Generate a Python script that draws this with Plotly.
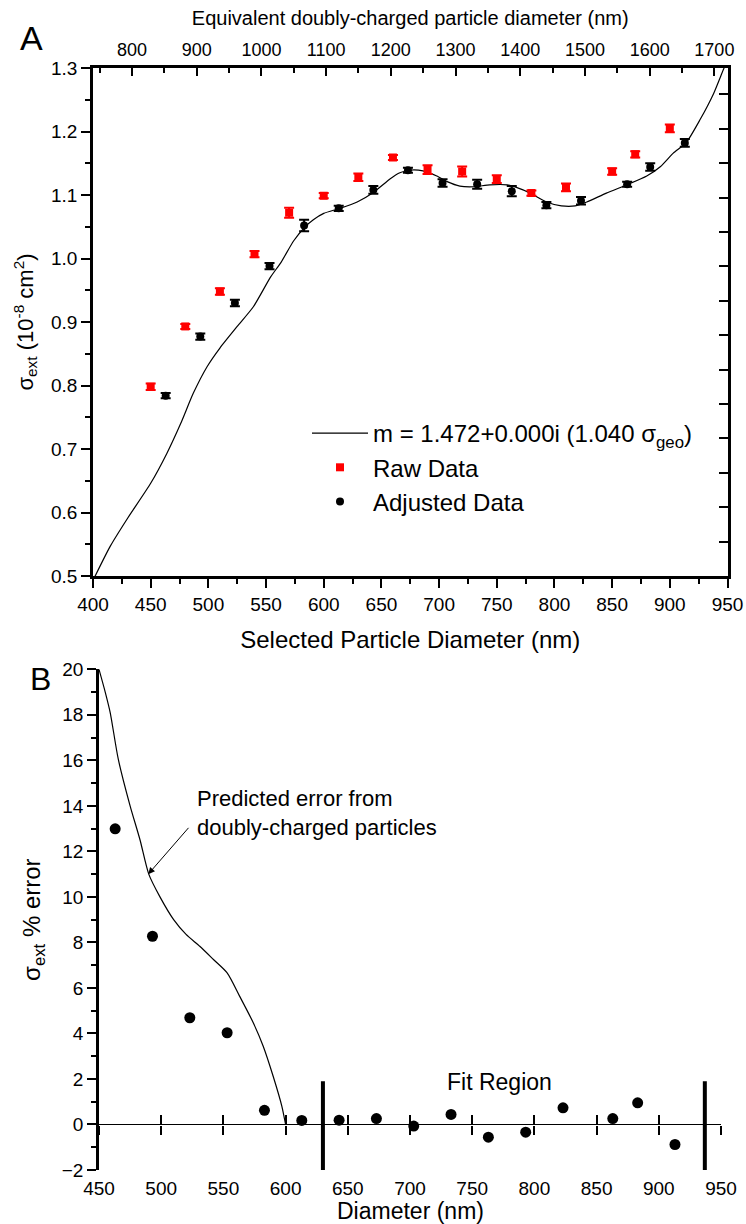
import plotly.graph_objects as go

# ---------------- Panel A data ----------------
raw_x = [450, 480, 510, 540, 570, 600, 630, 660, 690, 720, 750, 780, 810, 850, 870, 900]
raw_y = [0.798, 0.893, 0.948, 1.007, 1.072, 1.099, 1.128, 1.159, 1.140, 1.137, 1.125, 1.103, 1.112, 1.137, 1.164, 1.205]
raw_err = [0.005, 0.004, 0.005, 0.005, 0.008, 0.004, 0.006, 0.004, 0.007, 0.008, 0.006, 0.004, 0.006, 0.005, 0.005, 0.006]

adj_x = [463, 493, 523, 553, 583, 613, 643, 673, 703, 733, 763, 793, 823, 863, 883, 913]
adj_y = [0.784, 0.877, 0.930, 0.988, 1.052, 1.079, 1.108, 1.139, 1.119, 1.117, 1.106, 1.084, 1.091, 1.117, 1.144, 1.182]
adj_err = [0.004, 0.005, 0.005, 0.005, 0.009, 0.004, 0.006, 0.004, 0.006, 0.007, 0.008, 0.005, 0.006, 0.004, 0.006, 0.006]

theory_x = [400, 415, 430, 450, 464, 476, 487, 499, 510, 525, 539, 554, 563, 574, 584, 591, 600, 614, 629, 643,
            658, 666, 674, 686, 698, 707, 718, 730, 744, 759, 767, 779, 793, 806, 818, 828, 845, 864, 880, 892,
            903, 914, 926, 938, 947, 952]
theory_y = [0.493, 0.547, 0.591, 0.646, 0.693, 0.740, 0.788, 0.830, 0.859, 0.893, 0.924, 0.971, 0.994, 1.028, 1.050, 1.061, 1.071, 1.079, 1.089, 1.104,
            1.126, 1.135, 1.139, 1.138, 1.130, 1.121, 1.114, 1.113, 1.116, 1.116, 1.112, 1.103, 1.089, 1.083, 1.083, 1.089, 1.103, 1.117, 1.130, 1.145,
            1.166, 1.182, 1.218, 1.260, 1.300, 1.320]
theory_name = "m = 1.472+0.000i (1.040 σ<sub>geo</sub>)"

top_x_range = [400, 950]
top_y_range = [0.5, 1.3]
top_x2_range = [739.7, 1720.3]   # equivalent doubly-charged diameter
right_y_range = [0, 14.77]

# ---------------- Panel B data ----------------
err_x = [463, 493, 523, 553, 583, 613, 643, 673, 703, 733, 763, 793, 823, 863, 883, 913]
err_y = [12.99, 8.27, 4.69, 4.03, 0.62, 0.18, 0.19, 0.26, -0.07, 0.44, -0.56, -0.34, 0.73, 0.26, 0.95, -0.88]

pred_x = [450, 455, 459, 465.5, 475, 483, 490, 499, 510, 520, 531, 542, 553, 563, 574, 582, 590, 597, 600]
pred_y = [20.0, 19.0, 18.1, 16.05, 14.0, 12.5, 11.0, 10.0, 9.0, 8.35, 7.83, 7.25, 6.66, 5.64, 4.47, 3.44, 2.12, 0.80, 0.0]

bot_x_range = [450, 950]
bot_y_range = [-2, 20]
fit_region = [630, 937]
fit_line_y = [-2, 1.9]

FONT = "Liberation Sans, Arial, sans-serif"

domA_x = [93 / 746, 727.5 / 746]
domA_y = [648 / 1224, 1156 / 1224]
domB_x = [99 / 746, 721 / 746]
domB_y = [54 / 1224, 554.7 / 1224]

zero_pos = domB_y[0] + (0 - bot_y_range[0]) / (bot_y_range[1] - bot_y_range[0]) * (domB_y[1] - domB_y[0])

fig = go.Figure()

fig.add_trace(go.Scatter(x=theory_x, y=theory_y, mode="lines", name=theory_name,
                         line=dict(color="black", width=1.2, shape="spline", smoothing=0.6),
                         xaxis="x", yaxis="y"))
fig.add_trace(go.Scatter(x=raw_x, y=raw_y, mode="markers", name="Raw Data",
                         marker=dict(symbol="square", color="#ff0000", size=8),
                         error_y=dict(type="data", array=raw_err, color="#ff0000", thickness=2, width=5),
                         xaxis="x", yaxis="y"))
fig.add_trace(go.Scatter(x=adj_x, y=adj_y, mode="markers", name="Adjusted Data",
                         marker=dict(symbol="circle", color="black", size=8),
                         error_y=dict(type="data", array=adj_err, color="black", thickness=2, width=5),
                         xaxis="x", yaxis="y"))

fig.add_trace(go.Scatter(x=pred_x, y=pred_y, mode="lines", showlegend=False,
                         line=dict(color="black", width=1.2, shape="spline", smoothing=0.7),
                         xaxis="x3", yaxis="y2"))
fig.add_trace(go.Scatter(x=err_x, y=err_y, mode="markers", showlegend=False,
                         marker=dict(color="black", size=11), xaxis="x3", yaxis="y2"))

# empty carriers so the overlay axes (top, right, zero-line axes) get drawn
for xa, ya in [("x2", "y"), ("x", "y3"), ("x4", "y2"), ("x5", "y2")]:
    fig.add_trace(go.Scatter(x=[], y=[], mode="markers", showlegend=False, hoverinfo="skip",
                             xaxis=xa, yaxis=ya))

LW = 2.5
axis_common = dict(showgrid=False, zeroline=False, linecolor="black", tickcolor="black", automargin=False,
                   tickfont=dict(family=FONT, size=19, color="black"))

fig.update_layout(
    width=746, height=1224,
    margin=dict(l=0, r=0, t=0, b=0, autoexpand=False),
    paper_bgcolor="white", plot_bgcolor="white",
    font=dict(family=FONT, color="black"),
    showlegend=True,
    legend=dict(x=307 / 746, y=1 - 411 / 1224, xanchor="left", yanchor="top",
                bgcolor="rgba(0,0,0,0)", font=dict(family=FONT, size=24, color="black"),
                tracegroupgap=0, itemwidth=56),
    xaxis=dict(domain=domA_x, range=top_x_range, anchor="y", tickmode="linear", tick0=400, dtick=50,
               ticks="outside", ticklen=9, tickwidth=2, showline=True, linewidth=LW,
               minor=dict(dtick=25, tick0=400, ticks="outside", ticklen=5, tickwidth=2, tickcolor="black"),
               title=dict(text="Selected Particle Diameter (nm)", font=dict(family=FONT, size=24), standoff=18),
               **axis_common),
    yaxis=dict(domain=domA_y, range=top_y_range, anchor="x", tickmode="linear", tick0=0.5, dtick=0.1,
               tickformat=".1f", ticks="outside", ticklen=9, tickwidth=2, showline=True, linewidth=LW,
               minor=dict(dtick=0.05, tick0=0.5, ticks="outside", ticklen=5, tickwidth=2, tickcolor="black"),
               title=dict(text="σ<sub>ext</sub> (10<sup>-8</sup> cm<sup>2</sup>)", font=dict(family=FONT, size=22), standoff=12),
               **axis_common),
    xaxis2=dict(overlaying="x", side="top", anchor="y", range=top_x2_range, tickmode="linear", tick0=800, dtick=100,
                ticks="inside", ticklen=8, tickwidth=2, showline=True, linewidth=LW,
                minor=dict(dtick=50, tick0=800, ticks="inside", ticklen=5, tickwidth=2, tickcolor="black"),
                title=dict(text="Equivalent doubly-charged particle diameter (nm)", font=dict(family=FONT, size=20), standoff=10),
                ticklabelstandoff=2,
                showgrid=False, zeroline=False, linecolor="black", tickcolor="black", automargin=False,
                tickfont=dict(family=FONT, size=18, color="black")),
    yaxis3=dict(overlaying="y", side="right", anchor="x", range=right_y_range, tickmode="linear", tick0=0, dtick=1,
                ticks="inside", ticklen=9, tickwidth=2, showline=True, linewidth=LW, showticklabels=False,
                showgrid=False, zeroline=False, linecolor="black", tickcolor="black", automargin=False),
    xaxis3=dict(domain=domB_x, range=bot_x_range, anchor="y2", tickmode="linear", tick0=450, dtick=50,
                ticks="", showline=False, ticklabelstandoff=5,
                **axis_common),
    yaxis2=dict(domain=domB_y, range=bot_y_range, anchor="x3", tickmode="linear", tick0=-2, dtick=2,
                ticks="outside", ticklen=9, tickwidth=2, showline=True, linewidth=LW,
                minor=dict(dtick=1, tick0=-2, ticks="outside", ticklen=5, tickwidth=2, tickcolor="black"),
                title=dict(text="σ<sub>ext</sub> % error", font=dict(family=FONT, size=24), standoff=15),
                **axis_common),
    xaxis4=dict(overlaying="x3", anchor="free", position=zero_pos, side="bottom", range=bot_x_range,
                tickmode="linear", tick0=450, dtick=50, ticks="outside", ticklen=9, tickwidth=2,
                showline=True, linewidth=1.2, showticklabels=False, showgrid=False, zeroline=False,
                linecolor="black", tickcolor="black", automargin=False),
    xaxis5=dict(overlaying="x3", anchor="free", position=zero_pos, side="bottom", range=bot_x_range,
                tickmode="linear", tick0=450, dtick=50, ticks="inside", ticklen=9, tickwidth=2,
                showline=False, showticklabels=False, showgrid=False, zeroline=False,
                tickcolor="black", automargin=False),
)

for xv in fit_region:
    fig.add_shape(type="line", xref="x3", yref="y2", x0=xv, x1=xv, y0=fit_line_y[0], y1=fit_line_y[1],
                  line=dict(color="black", width=4))

# bottom-panel x-axis title (sits tight under its tick labels)
fig.add_annotation(text="Diameter (nm)", x=0.5, y=1 - 1211 / 1224, xref="x3 domain", yref="paper",
                   showarrow=False, xanchor="center", yanchor="middle",
                   font=dict(family=FONT, size=23, color="black"))

fig.add_annotation(text="A", x=31 / 746, y=1 - 38 / 1224, xref="paper", yref="paper", showarrow=False,
                   xanchor="center", yanchor="middle", font=dict(family=FONT, size=34, color="black"))
fig.add_annotation(text="B", x=40 / 746, y=1 - 679 / 1224, xref="paper", yref="paper", showarrow=False,
                   xanchor="center", yanchor="middle", font=dict(family=FONT, size=32, color="black"))
fig.add_annotation(text="", x=489.6, y=11.0, xref="x3", yref="y2", ax=523, ay=13.1, axref="x3", ayref="y2",
                   showarrow=True, arrowhead=2, arrowsize=1.3, arrowwidth=1, arrowcolor="black")
fig.add_annotation(text="Predicted error from<br>doubly-charged particles", x=527, y=13.69, xref="x3", yref="y2",
                   showarrow=False, xanchor="left", yanchor="middle", align="left",
                   font=dict(family=FONT, size=22, color="black"))
fig.add_annotation(text="Fit Region", x=772, y=1.86, xref="x3", yref="y2", showarrow=False,
                   xanchor="center", yanchor="middle", font=dict(family=FONT, size=23, color="black"))

fig.write_html("out.html")
